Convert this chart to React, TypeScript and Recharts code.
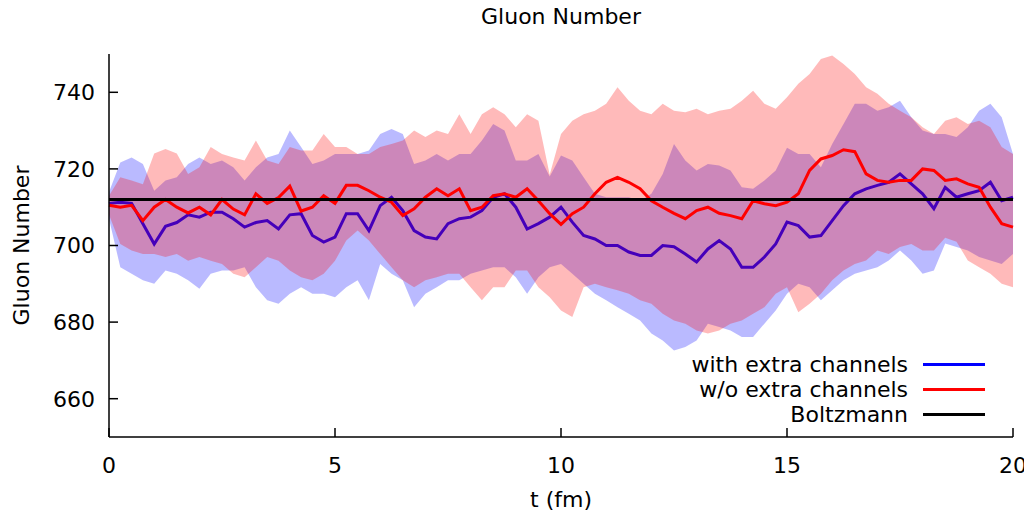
import { ComposedChart, Area, Line, XAxis, YAxis, ReferenceLine } from 'recharts';

const FONT = "'DejaVu Sans', sans-serif";

// time grid (fm), step 0.25
const TIME = [
  0, 0.25, 0.5, 0.75, 1, 1.25, 1.5, 1.75, 2, 2.25, 2.5, 2.75, 3, 3.25, 3.5, 3.75, 4, 4.25, 4.5, 4.75,
  5, 5.25, 5.5, 5.75, 6, 6.25, 6.5, 6.75, 7, 7.25, 7.5, 7.75, 8, 8.25, 8.5, 8.75, 9, 9.25, 9.5, 9.75,
  10, 10.25, 10.5, 10.75, 11, 11.25, 11.5, 11.75, 12, 12.25, 12.5, 12.75, 13, 13.25, 13.5, 13.75, 14, 14.25, 14.5, 14.75,
  15, 15.25, 15.5, 15.75, 16, 16.25, 16.5, 16.75, 17, 17.25, 17.5, 17.75, 18, 18.25, 18.5, 18.75, 19, 19.25, 19.5, 19.75,
  20,
];

// with extra channels
const BLUE_MEAN = [
  711, 711.3, 711, 705.7, 700.4, 705, 706, 708, 707.4, 708.7, 708.7, 707, 704.8, 706, 706.5, 704.3, 708, 708.3, 702.6, 700.9,
  702.2, 708.3, 708.3, 703.9, 710.4, 712.6, 709.1, 703.9, 702.2, 701.7, 705.7, 707, 707.4, 709.1, 712.6, 713.5, 710, 704.3, 705.7, 707.4,
  710, 706.1, 702.6, 701.7, 700, 700, 698.3, 697.4, 697.4, 700, 699.7, 697.8, 695.7, 699.1, 701.3, 699.1, 694.3, 694.3, 697, 700.4,
  706.1, 705.2, 702.2, 702.6, 706.5, 710.4, 713.5, 714.8, 715.7, 716.5, 718.7, 716.1, 713.5, 709.6, 715.2, 712.6, 713.5, 714.3, 716.5, 711.7,
  712.6,
];
const BLUE_LO = [
  707, 694.3, 692.6, 690.9, 690, 693.5, 692.6, 690.9, 688.7, 692.6, 693.5, 693.5, 694.3, 689.1, 685.7, 684.8, 687.4, 689.1, 687.4, 687.4,
  686.5, 689.1, 690.9, 685.7, 695.2, 692.6, 690.9, 683.9, 687.4, 689.1, 690.9, 690.9, 692.6, 693.5, 694.3, 694.3, 691.7, 687.4, 691.7, 694.3,
  695.2, 692.6, 690, 687.4, 685.7, 683.9, 682.2, 680.4, 677, 675.2, 672.6, 673.5, 675.2, 679.6, 678.7, 677.8, 676.1, 676.1, 679.6, 683,
  687.4, 690, 689.1, 685.7, 688.3, 690.9, 692.6, 693.5, 694.3, 696.1, 698.7, 696.1, 692.6, 693.5, 700.5, 699.6, 698.7, 697, 696.1, 695.2,
  697.8,
];
const BLUE_HI = [
  714, 721.7, 723, 721.3, 714.3, 717, 717.8, 721.3, 723, 721.3, 722.2, 720.4, 717, 720.4, 723, 723.9, 730, 725.7, 721.3, 722.2,
  723.9, 723.9, 723.9, 724.8, 729.1, 730.4, 729.1, 721.3, 722.2, 723.9, 722.2, 723.9, 723.9, 727.4, 731.7, 730, 722.2, 722.2, 723.9, 718,
  723.5, 722.2, 717.8, 713.5, 712.6, 712.6, 712.6, 711.7, 713.5, 718.7, 726.5, 722.2, 719.6, 721.3, 720.9, 719.6, 715.2, 714.8, 717, 719.6,
  725.5, 723.9, 723.9, 720.4, 726.5, 731.7, 737, 737, 735.2, 736.1, 737.8, 733.5, 730, 729.1, 729.1, 728.3, 730.9, 735.2, 737, 733.5,
  723.9,
];

// w/o extra channels
const RED_MEAN = [
  710.5, 710, 710.5, 706.5, 710, 712, 710, 708.5, 710, 708, 712, 709.5, 708, 713.5, 711, 712.5, 715.5, 709, 710, 713,
  711, 715.7, 715.7, 714.3, 712.6, 711.3, 707.8, 709.6, 712.6, 714.8, 713, 714.8, 709.1, 710, 713, 713.5, 712.6, 714.8, 711.7, 708.3,
  705.5, 708.3, 710, 713.5, 716.5, 717.8, 716.5, 714.8, 711.7, 710, 708.4, 707, 709.1, 710, 708.4, 707.8, 707, 711.7, 710.9, 710.4,
  711.3, 713.5, 719.6, 722.6, 723.5, 725, 724.5, 718.7, 717, 716.5, 717, 717, 720, 719.6, 717, 717.4, 716.1, 715.2, 710, 705.7,
  704.8,
];
const RED_LO = [
  708, 700.4, 698.7, 697.8, 697.8, 697, 697.8, 696, 697, 696, 695.2, 692.6, 691.7, 694.3, 697, 696, 693.5, 691.7, 690.9, 692.6,
  696, 701.3, 703.9, 701.3, 697.8, 694.3, 690.9, 689.1, 690.9, 691.7, 692.6, 692.6, 689.1, 685.7, 689.1, 689.1, 693.5, 693.5, 689.1, 686.5,
  683, 681.3, 689.1, 690, 689.1, 688.3, 687.4, 685.7, 684.8, 682.2, 680.4, 679.6, 677.8, 677, 677.8, 679.6, 680.4, 682.2, 683.9, 687.4,
  689.1, 682.6, 684.8, 687.4, 690.9, 693.5, 695.2, 696.1, 698.7, 697.8, 699.6, 700.4, 698.7, 698.7, 702, 701, 696.1, 694.3, 692.6, 690,
  689.1,
];
const RED_HI = [
  713, 717.8, 717, 716, 724, 725.2, 724, 718.7, 720.4, 725.7, 723.9, 723, 722.2, 727.4, 722.2, 721.3, 725.7, 724.8, 724.8, 729.1,
  725.7, 725.7, 723.9, 723.9, 725.7, 726.5, 727.4, 730, 728.3, 730, 729.1, 734.3, 729.1, 734.3, 736.1, 734.3, 730.9, 734.3, 732.6, 718.5,
  729.1, 732.6, 734.3, 735.2, 737, 741.3, 737.8, 735.2, 734.3, 737, 735.2, 734.8, 735.7, 734.3, 735.2, 735.7, 737.8, 740.4, 737, 735.7,
  738.7, 742.2, 744.8, 748.7, 749.6, 747.4, 744.8, 741.3, 739.6, 737, 735.2, 733.5, 730.9, 729.1, 732.6, 733.5, 731.7, 732.6, 730.9, 725.7,
  723.9,
];

const BOLTZMANN = 712;

const X_TICKS = [0, 5, 10, 15, 20];
const Y_TICKS = [660, 680, 700, 720, 740];

const LEGEND_NAMES = ['with extra channels', 'w/o extra channels', 'Boltzmann'];
const LEGEND_COLORS = ['#0000ff', '#ff0000', '#000000'];

const data = TIME.map((t, i) => ({
  t,
  blue: BLUE_MEAN[i],
  blueBand: [BLUE_LO[i], BLUE_HI[i]],
  red: RED_MEAN[i],
  redBand: [RED_LO[i], RED_HI[i]],
}));

const tickStyle = { fontFamily: FONT, fontSize: 22, fill: '#000' };
const frame = { stroke: '#000', strokeWidth: 1.5 };
const noLabel = () => '';

export default function App() {
  return (
    <div style={{ position: 'absolute', left: 0, top: 0, width: 1024, height: 517, background: '#fff', fontFamily: FONT }}>
      <div style={{ position: 'absolute', left: 0, width: 1122, top: 4, textAlign: 'center', fontSize: 22 }}>
        Gluon Number
      </div>
      <ComposedChart width={1024} height={517} data={data} margin={{ top: 54, right: 11, bottom: 0, left: 0 }}>
        <XAxis
          dataKey="t"
          type="number"
          domain={[0, 20]}
          ticks={X_TICKS}
          height={80}
          tickSize={-9}
          tickMargin={29}
          tick={tickStyle}
          axisLine={frame}
          tickLine={frame}
          label={{ value: 't (fm)', position: 'insideBottom', offset: 10, style: { fontFamily: FONT, fontSize: 22, fill: '#000' } }}
        />
        <XAxis
          xAxisId="top"
          orientation="top"
          dataKey="t"
          type="number"
          domain={[0, 20]}
          ticks={X_TICKS}
          height={0}
          tickSize={-9}
          tickFormatter={noLabel}
          axisLine={frame}
          tickLine={frame}
        />
        <YAxis
          type="number"
          domain={[650, 750]}
          allowDataOverflow
          ticks={Y_TICKS}
          width={109}
          tickSize={-9}
          tickMargin={23}
          tick={tickStyle}
          axisLine={frame}
          tickLine={frame}
          label={{
            value: 'Gluon Number',
            angle: -90,
            position: 'insideLeft',
            offset: 21,
            style: { textAnchor: 'middle', fontFamily: FONT, fontSize: 22, fill: '#000' },
          }}
        />
        <YAxis
          yAxisId="right"
          orientation="right"
          type="number"
          domain={[650, 750]}
          ticks={Y_TICKS}
          width={0}
          tickSize={-9}
          tickFormatter={noLabel}
          axisLine={frame}
          tickLine={frame}
        />
        <Area dataKey="blueBand" stroke="none" fill="#0000ff" fillOpacity={0.27} isAnimationActive={false} zIndex={100} />
        <Line dataKey="blue" stroke="#0000ff" strokeWidth={3} dot={false} isAnimationActive={false} zIndex={101} />
        <Area dataKey="redBand" stroke="none" fill="#ff0000" fillOpacity={0.27} isAnimationActive={false} zIndex={102} />
        <Line dataKey="red" stroke="#ff0000" strokeWidth={3} dot={false} isAnimationActive={false} zIndex={103} />
        <ReferenceLine y={BOLTZMANN} stroke="#000" strokeWidth={3} zIndex={104} />
      </ComposedChart>
      <div style={{ position: 'absolute', left: 585, top: 352, width: 400, fontSize: 22 }}>
        {LEGEND_NAMES.map((name, i) => (
          <div key={name} style={{ display: 'flex', justifyContent: 'flex-end', alignItems: 'center', height: 25 }}>
            <span>{name}</span>
            <span style={{ display: 'inline-block', width: 62, height: 3, marginLeft: 15, background: LEGEND_COLORS[i] }} />
          </div>
        ))}
      </div>
    </div>
  );
}
